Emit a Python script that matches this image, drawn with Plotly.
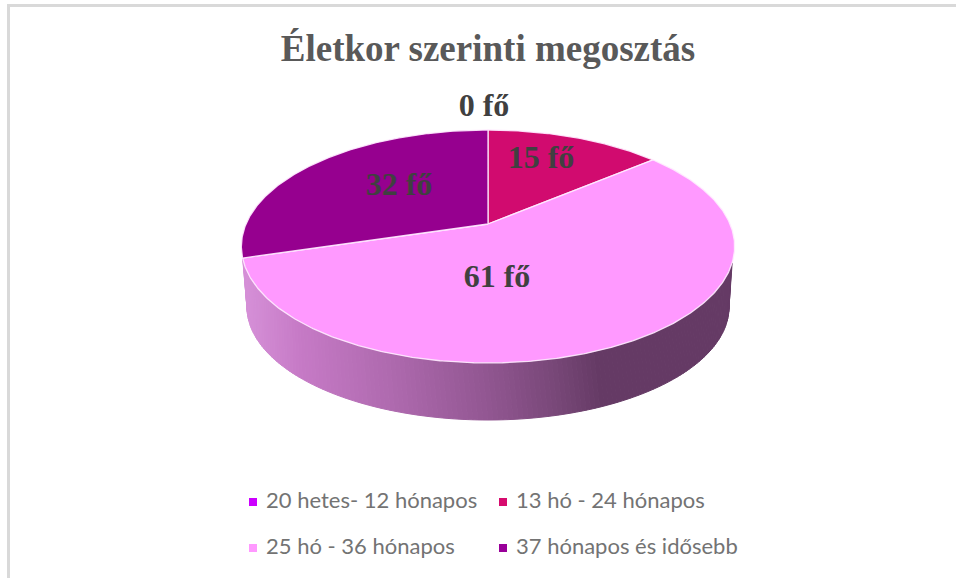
import math
import plotly.graph_objects as go

# ---- data ----
categories = ["20 hetes- 12 hónapos", "13 hó - 24 hónapos", "25 hó - 36 hónapos", "37 hónapos és idősebb"]
values = [0, 15, 61, 32]
unit = "fő"
title_text = "Életkor szerinti megosztás"

# ---- styles ----
legend_colors = ["#CC00FF", "#D60B6E", "#FF99FF", "#990099"]
slice_colors = ["#CC00FF", "#D10B6F", "#FF99FF", "#96008F"]
LABEL_POS = [(484, 108), (541, 160), (497, 279), (399, 187)]
LEGEND_POS = [(253, 502), (503, 502), (253, 548), (503, 548)]
WALL_STOPS = [(247, (213, 143, 215)), (300, (198, 122, 198)), (400, (172, 104, 172)),
              (488, (145, 86, 145)), (560, (118, 70, 118)), (600, (101, 58, 101)), (733, (101, 58, 101))]
W, H = 956, 578

# perspective projection of the unit disc onto the page
CX, CY, SX, A, K = 488.0, 224.0, 242.0, -68.9, 0.193


def proj(theta_deg, r=1.0):
    t = math.radians(theta_deg)
    x, y = r * math.sin(t), r * math.cos(t)
    d = 1 + K * y
    return CX + SX * x / d, (CY + A * y) / d


def bottom(phi_deg):
    t = math.radians(phi_deg)
    return CX + 241 * math.sin(t), 307 - 113 * math.cos(t)


def wall_color(x):
    for (x0, c0), (x1, c1) in zip(WALL_STOPS, WALL_STOPS[1:]):
        if x <= x1:
            f = max(0, (x - x0) / (x1 - x0))
            return "rgb(%d,%d,%d)" % tuple(round(a + (b - a) * f) for a, b in zip(c0, c1))
    return "rgb(%d,%d,%d)" % WALL_STOPS[-1][1]


fig = go.Figure()

# side wall, as vertical strips to carry the horizontal gradient
STRIPS = 150
TH0, TH1 = 109.0, 253.3
for i in range(STRIPS):
    f0, f1 = i / STRIPS, (i + 1) / STRIPS
    a = proj(TH0 + (TH1 - TH0) * f0)
    b = proj(TH0 + (TH1 - TH0) * f1)
    c = bottom(90 + 180 * f1)
    d = bottom(90 + 180 * f0)
    col = wall_color((a[0] + b[0] + c[0] + d[0]) / 4)
    fig.add_trace(go.Scatter(x=[a[0], b[0], c[0], d[0], a[0]], y=[a[1], b[1], c[1], d[1], a[1]],
                             mode="lines", fill="toself", fillcolor=col,
                             line=dict(color=col, width=1), showlegend=False, hoverinfo="skip"))

# top face, from the values
total = sum(values)
start = 0.0
for name, v, col in zip(categories, values, slice_colors):
    sweep = 360.0 * v / total
    if v > 0:
        n = max(2, int(sweep * 2))
        pts = [proj(start + sweep * j / n) for j in range(n + 1)]
        xs = [CX] + [p[0] for p in pts] + [CX]
        ys = [CY] + [p[1] for p in pts] + [CY]
        fig.add_trace(go.Scatter(x=xs, y=ys, mode="lines", fill="toself", fillcolor=col,
                                 line=dict(color="rgba(255,235,255,0.9)", width=1.3),
                                 name=name, showlegend=False, hoverinfo="name"))
    start += sweep

# data labels
fig.add_trace(go.Scatter(x=[p[0] for p in LABEL_POS], y=[p[1] for p in LABEL_POS], mode="text",
                         text=[f"{v} {unit}" for v in values], textposition="middle center",
                         textfont=dict(family="Liberation Serif", size=32, color="#404040", weight=700),
                         showlegend=False, hoverinfo="skip"))

# legend
for name, col, (lx, ly) in zip(categories, legend_colors, LEGEND_POS):
    fig.add_trace(go.Scatter(x=[lx], y=[ly], mode="markers",
                             marker=dict(symbol="square", size=8, color=col, line=dict(width=0)),
                             showlegend=False, hoverinfo="skip"))
    fig.add_trace(go.Scatter(x=[lx + 13], y=[ly], mode="text", text=[name],
                             textposition="middle right",
                             textfont=dict(family="Lato", size=22, color="#737373"),
                             showlegend=False, hoverinfo="skip"))

fig.update_layout(
    width=W, height=H, margin=dict(l=0, r=0, t=0, b=0), autosize=False,
    paper_bgcolor="white", plot_bgcolor="white", showlegend=False,
    title=dict(text=title_text, x=488 / W, y=1 - 48 / H, xanchor="center", yanchor="middle",
               xref="paper", yref="container",
               font=dict(family="Liberation Serif", size=37, color="#595959", weight=700)),
    xaxis=dict(range=[0, W], visible=False, fixedrange=True),
    yaxis=dict(range=[H, 0], visible=False, fixedrange=True),
    shapes=[
        dict(type="rect", xref="x", yref="y", x0=7, x1=W, y0=4, y1=7, fillcolor="#D9D9D9", line_width=0, layer="below"),
        dict(type="rect", xref="x", yref="y", x0=7, x1=10, y0=4, y1=H, fillcolor="#D9D9D9", line_width=0, layer="below"),
    ],
)
fig.write_html("out.html", post_script="document.body.style.margin='0';document.body.style.overflow='hidden';",
               config={"displayModeBar": False})
